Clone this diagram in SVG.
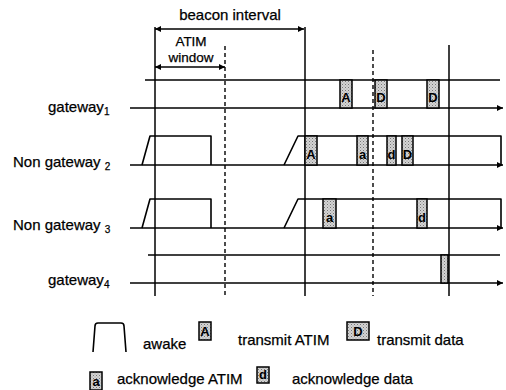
<svg xmlns="http://www.w3.org/2000/svg" width="506" height="390" viewBox="0 0 506 390">
<defs>
<marker id="ah" viewBox="0 0 10 10" refX="10" refY="5" markerWidth="9" markerHeight="6" markerUnits="userSpaceOnUse" orient="auto-start-reverse">
<path d="M0,0 L10,5 L0,10 z" fill="#000"/>
</marker>
<pattern id="stip" width="3" height="3" patternUnits="userSpaceOnUse">
<rect width="3" height="3" fill="#d4d4d4"/>
<rect width="1" height="1" fill="#777"/>
<rect x="1.5" y="1.5" width="1" height="1" fill="#999"/>
</pattern>
</defs>
<style>
text{font-family:"Liberation Sans",Arial,sans-serif;fill:#000;stroke:#000;stroke-width:0.25}
.lbl{font-size:15px}
.hdr{font-size:13.5px;text-anchor:middle}
.sub{font-size:10px}
.bx{font-size:13px;font-weight:bold;text-anchor:middle;stroke:none}
.ln{stroke:#000;stroke-width:1.5;fill:none}
.dash{stroke:#000;stroke-width:1.4;fill:none;stroke-dasharray:4,3}
.box{fill:url(#stip);stroke:#000;stroke-width:1.5}
.awk{stroke:#000;stroke-width:1.6;fill:none;stroke-linejoin:round}
</style>
<rect width="506" height="390" fill="#fff"/>

<g id="grid">
<line class="ln" x1="155" y1="27" x2="155" y2="296"/>
<line class="ln" x1="305" y1="27" x2="305" y2="296"/>
<line class="ln" x1="449" y1="45" x2="449" y2="296"/>
<line class="dash" x1="225" y1="46" x2="225" y2="296"/>
<line class="dash" x1="373" y1="50" x2="373" y2="296"/>
</g>

<g id="connectors">
<line class="ln" x1="155" y1="29" x2="304" y2="29" marker-start="url(#ah)" marker-end="url(#ah)"/>
<line class="ln" x1="155" y1="67" x2="225" y2="67" marker-start="url(#ah)" marker-end="url(#ah)"/>
</g>

<g id="header">
<text class="lbl" x="230" y="20" text-anchor="middle">beacon interval</text>
<text class="hdr" x="191" y="46">ATIM</text>
<text class="hdr" x="191" y="61.5">window</text>
</g>

<g id="gateway1">
<text class="lbl" x="48" y="112">gateway<tspan class="sub" dy="3">1</tspan></text>
<line class="ln" x1="145" y1="80" x2="500" y2="80"/>
<line class="ln" x1="130" y1="108" x2="503" y2="108" marker-end="url(#ah)"/>
<rect class="box" x="340" y="80" width="12" height="28"/>
<text class="bx" x="346" y="102">A</text>
<rect class="box" x="375" y="80" width="12" height="28"/>
<text class="bx" x="381" y="102">D</text>
<rect class="box" x="427" y="80" width="12" height="28"/>
<text class="bx" x="433" y="102">D</text>
</g>

<g id="nongateway2">
<text class="lbl" x="13" y="167">Non gateway <tspan class="sub" dy="3">2</tspan></text>
<line class="ln" x1="130" y1="165" x2="503" y2="165" marker-end="url(#ah)"/>
<path class="awk" d="M142,165 L150,136 L211,136 L211,165"/>
<path class="awk" d="M284,165 L298,136 L501,136 L501,165"/>
<rect class="box" x="305" y="136" width="12" height="29"/>
<text class="bx" x="311" y="159">A</text>
<rect class="box" x="357" y="136" width="11" height="29"/>
<text class="bx" x="362.5" y="159">a</text>
<rect class="box" x="387" y="136" width="9" height="29"/>
<text class="bx" x="391.5" y="159">d</text>
<rect class="box" x="402" y="136" width="11" height="29"/>
<text class="bx" x="407.5" y="159">D</text>
</g>

<g id="nongateway3">
<text class="lbl" x="13" y="230">Non gateway <tspan class="sub" dy="3">3</tspan></text>
<line class="ln" x1="130" y1="228" x2="503" y2="228" marker-end="url(#ah)"/>
<path class="awk" d="M142,228 L150,199 L211,199 L211,228"/>
<path class="awk" d="M284,228 L298,199 L501,199 L501,228"/>
<rect class="box" x="323" y="199" width="13" height="29"/>
<text class="bx" x="329.5" y="222">a</text>
<rect class="box" x="417" y="199" width="10" height="29"/>
<text class="bx" x="422" y="222">d</text>
</g>

<g id="gateway4">
<text class="lbl" x="48" y="285">gateway<tspan class="sub" dy="3">4</tspan></text>
<line class="ln" x1="148" y1="255" x2="500" y2="255"/>
<line class="ln" x1="130" y1="283" x2="503" y2="283" marker-end="url(#ah)"/>
<rect class="box" x="441" y="255" width="7" height="28"/>
</g>

<g id="legend">
<path class="awk" d="M93,352 L95,326 Q95,323 98,323 L121,323 Q124,323 124,326 L126,352"/>
<text class="lbl" x="143" y="349">awake</text>
<rect class="box" x="199" y="322" width="12" height="18"/>
<text class="bx" x="205" y="336">A</text>
<text class="lbl" x="238" y="345">transmit ATIM</text>
<rect class="box" x="347" y="322" width="22" height="18"/>
<text class="bx" x="358" y="336">D</text>
<text class="lbl" x="377" y="345">transmit data</text>
<rect class="box" x="90" y="372" width="12" height="18"/>
<text class="bx" x="96" y="386">a</text>
<text class="lbl" x="117" y="384">acknowledge ATIM</text>
<rect class="box" x="257" y="367" width="12" height="16"/>
<text class="bx" x="263" y="379">d</text>
<text class="lbl" x="292" y="384">acknowledge data</text>
</g>
</svg>
